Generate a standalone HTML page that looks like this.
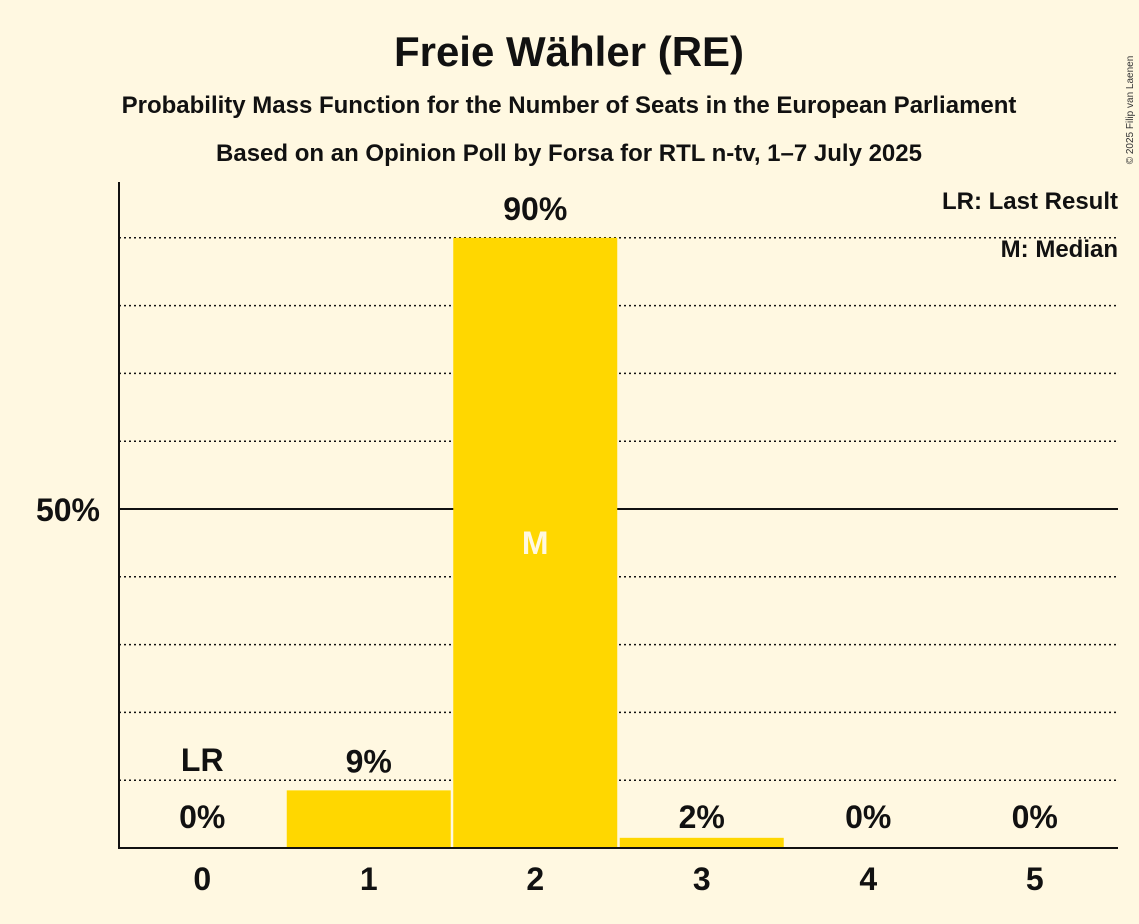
<!DOCTYPE html>
<html><head><meta charset="utf-8"><style>
html,body{margin:0;padding:0;background:#FFF8E1;}
svg{display:block;font-family:"Liberation Sans",sans-serif;font-weight:bold;}
</style></head><body>
<svg width="1139" height="924" viewBox="0 0 1139 924">
<rect width="1139" height="924" fill="#FFF8E1"/>
<text x="569" y="66" font-size="42" text-anchor="middle" fill="#111">Freie Wähler (RE)</text>
<text x="569" y="113" font-size="24" text-anchor="middle" fill="#111">Probability Mass Function for the Number of Seats in the European Parliament</text>
<text x="569" y="161" font-size="24" text-anchor="middle" fill="#111">Based on an Opinion Poll by Forsa for RTL n-tv, 1–7 July 2025</text>
<text x="1133" y="110" font-size="10" font-weight="normal" fill="#333" transform="rotate(-90 1133 110)" text-anchor="middle">© 2025 Filip van Laenen</text>
<g id="grid"></g>
<g id="bars"></g>
<line x1="119" y1="182" x2="119" y2="849" stroke="#111" stroke-width="2"/>
<line x1="118" y1="848" x2="1118" y2="848" stroke="#111" stroke-width="2"/>
<text x="100" y="521" font-size="32" text-anchor="end" fill="#111">50%</text>
<text x="1118" y="209" font-size="24" text-anchor="end" fill="#111">LR: Last Result</text>
<text x="1118" y="257" font-size="24" text-anchor="end" fill="#111">M: Median</text>
<g id="labels"></g>
</svg>
<script>
const categories=[0,1,2,3,4,5];
const values=[0,8.5,90,1.5,0,0];
const valueLabels=["0%","9%","90%","2%","0%","0%"];
const gridTicks=[10,20,30,40,50,60,70,80,90];
const lastResult=0, median=2;
const NS="http://www.w3.org/2000/svg";
const x0=119,x1=1118,yBase=848,yTop=170;
const step=(x1-x0)/categories.length;
const xc=i=>x0+step*(i+0.5);
const y=v=>yBase-(yBase-yTop)*v/100;
function mk(t,a,p){const e=document.createElementNS(NS,t);for(const k in a)e.setAttribute(k,a[k]);p.appendChild(e);return e;}
const grid=document.getElementById('grid'),bars=document.getElementById('bars'),labels=document.getElementById('labels');
gridTicks.forEach(t=>{
 const l=mk('line',{x1:x0,x2:x1,y1:y(t),y2:y(t),stroke:'#111','stroke-width':t===50?2:1.5,'stroke-dasharray':t===50?'':'2,3'},grid);
 
 
});
categories.forEach((c,i)=>{
 const v=values[i];
 const b=mk('rect',{x:xc(i)-82,y:y(v),width:164,height:yBase-y(v),fill:'#FFD700'},bars);
 
 
 const ty=(v>=5?y(v)-18:yBase-20);
 const vl=mk('text',{x:xc(i),y:ty,'font-size':32,'text-anchor':'middle',fill:'#111'},labels);
 vl.textContent=valueLabels[i];
 
 
 const xl=mk('text',{x:xc(i),y:875+15,'font-size':32,'text-anchor':'middle',fill:'#111'},labels);
 xl.textContent=c;
 
 
 if(c===lastResult){
  const lr=mk('text',{x:xc(i),y:ty-57,'font-size':32,'text-anchor':'middle',fill:'#111'},labels);
  lr.textContent='LR';
  
  
 }
 if(c===median){
  const m=mk('text',{x:xc(i),y:y(45)+11,'font-size':32,'text-anchor':'middle',fill:'#FFF8E1'},labels);
  m.textContent='M';
  
  
 }
});
</script>
</body></html>
